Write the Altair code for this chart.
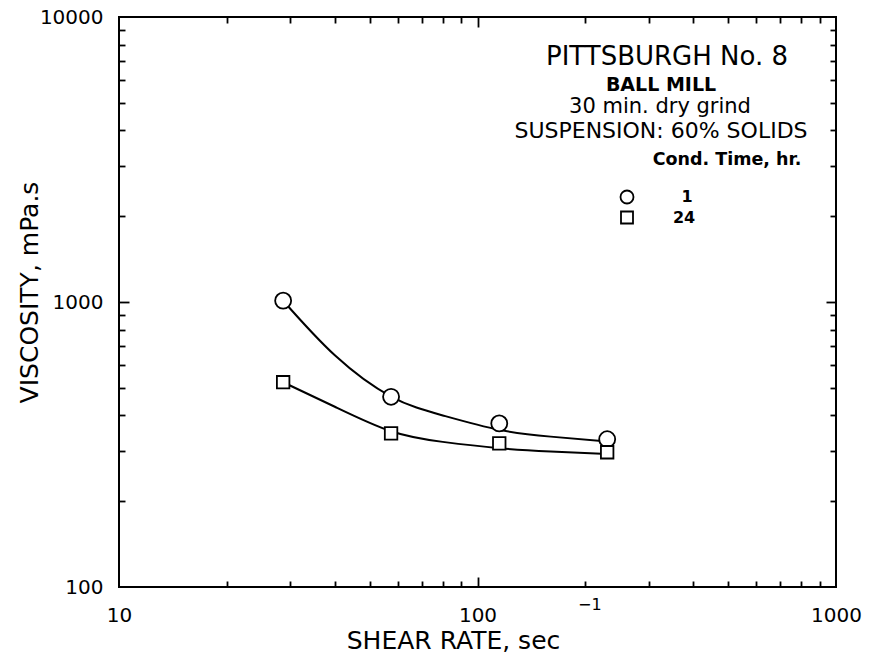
import altair as alt
import pandas as pd

# ---- data ----
shear_rate = [28.7, 57.4, 115, 230]
visc_1h = [1011, 465, 375, 330]
visc_24h = [523, 346, 319, 297]

fit_rate = [28.7, 40, 57.4, 80, 115, 160, 230]
fit_1h = [1010, 650, 466, 400, 356, 337, 324]
fit_24h = [523, 429, 352, 323, 307, 299, 293]

x_major = [100]
x_minor = [20, 30, 40, 50, 60, 70, 80, 90, 200, 300, 400, 500, 600, 700, 800, 900]
y_major = [1000]
y_minor = [200, 300, 400, 500, 600, 700, 800, 900, 2000, 3000, 4000, 5000, 6000, 7000, 8000, 9000]
x_labels = [10, 100, 1000]
y_labels = [100, 1000, 10000]

title_lines = ["PITTSBURGH No. 8", "BALL MILL", "30 min. dry grind", "SUSPENSION: 60% SOLIDS"]
legend_title = "Cond. Time, hr."
legend_labels = ["1", "24"]
x_title = "SHEAR RATE, sec"
x_title_sup = "\u22121"
y_title = "VISCOSITY, mPa.s"

# ---- tables ----
pts = pd.DataFrame({
    "rate": shear_rate * 2,
    "visc": visc_1h + visc_24h,
    "series": ["1"] * len(shear_rate) + ["24"] * len(shear_rate),
})
fit = pd.DataFrame({
    "rate": fit_rate * 2,
    "visc": fit_1h + fit_24h,
    "series": ["1"] * len(fit_rate) + ["24"] * len(fit_rate),
})
dummy = pd.DataFrame({"k": [0]})

W, H = 717, 570
FONT = "DejaVu Sans"

xs = alt.Scale(type="log", domain=[10, 1000], nice=False)
ys = alt.Scale(type="log", domain=[100, 10000], nice=False)

tick_common = dict(labels=False, domain=False, grid=False, ticks=True, title=None,
                   tickColor="black", tickWidth=1.8)
xt_size = {"condition": {"test": "datum.value === 100", "value": 10}, "value": 6}
yt_size = {"condition": {"test": "datum.value === 1000", "value": 10}, "value": 6}

x_label_axis = alt.Axis(orient="bottom", values=x_labels, format="d", ticks=False, tickSize=0,
                        domain=False, grid=False, labelFont=FONT, labelFontSize=20,
                        labelColor="black", labelPadding=18, labelFlush=False, labelOverlap=False,
                        title=x_title, titleFont=FONT, titleFontSize=25, titleFontWeight="normal",
                        titleColor="black", titleX=334, titleY=61, titleAlign="center",
                        titleBaseline="alphabetic", titleAnchor="start")
y_label_axis = alt.Axis(orient="left", values=y_labels, format="d", ticks=False, tickSize=0,
                        domain=False, grid=False, labelFont=FONT, labelFontSize=20,
                        labelColor="black", labelPadding=16, labelFlush=False, labelOverlap=False,
                        title=y_title, titleFont=FONT, titleFontSize=25, titleFontWeight="normal",
                        titleColor="black", titleX=-82, titleY=275, titleAngle=270,
                        titleAlign="center", titleBaseline="alphabetic", titleAnchor="start")

curves = alt.Chart(fit).mark_line(interpolate="natural", color="black", strokeWidth=2).encode(
    x=alt.X("rate:Q", scale=xs, axis=x_label_axis),
    y=alt.Y("visc:Q", scale=ys, axis=y_label_axis),
    detail="series:N",
)

circles = alt.Chart(pts).transform_filter(alt.datum.series == "1").mark_point(
    shape="circle", size=256, filled=True, fill="white", stroke="black", strokeWidth=1.8, opacity=1
).encode(
    x=alt.X("rate:Q", scale=xs, axis=alt.Axis(orient="top", offset=-H, values=x_major + x_minor,
                                               tickSize=xt_size, **tick_common)),
    y=alt.Y("visc:Q", scale=ys, axis=alt.Axis(orient="right", offset=-W, values=y_major + y_minor,
                                               tickSize=yt_size, **tick_common)),
)

squares = alt.Chart(pts).transform_filter(alt.datum.series == "24").mark_point(
    shape="square", size=156, filled=True, fill="white", stroke="black", strokeWidth=1.8, opacity=1
).encode(
    x=alt.X("rate:Q", scale=xs, axis=alt.Axis(orient="bottom", offset=-H, values=x_major + x_minor,
                                               tickSize=xt_size, **tick_common)),
    y=alt.Y("visc:Q", scale=ys, axis=alt.Axis(orient="left", offset=-W, values=y_major + y_minor,
                                               tickSize=yt_size, **tick_common)),
)


def label(text, x, y, size, weight="normal", align="center"):
    return alt.Chart(dummy).mark_text(
        font=FONT, fontSize=size, fontWeight=weight, align=align, baseline="alphabetic", color="black"
    ).encode(x=alt.value(x), y=alt.value(y), text=alt.value(text))


def marker(shape, x, y, size):
    return alt.Chart(dummy).mark_point(
        shape=shape, size=size, filled=True, fill="white", stroke="black", strokeWidth=1.8, opacity=1
    ).encode(x=alt.value(x), y=alt.value(y))


texts = [
    label(title_lines[0], 548, 48, 26),
    label(title_lines[1], 542, 74, 19, "bold"),
    label(title_lines[2], 541, 96, 21),
    label(title_lines[3], 542, 121, 22),
    label(legend_title, 608, 148, 17.5, "bold"),
    marker("circle", 508, 180, 169),
    marker("square", 508, 200.5, 144),
    label(legend_labels[0], 568, 185, 16, "bold"),
    label(legend_labels[1], 565, 205.5, 16, "bold"),
    label(x_title_sup, 459, 593, 16, align="left"),
]

chart = alt.layer(curves, circles, squares, *texts).resolve_axis(
    x="independent", y="independent"
).properties(
    width=W, height=H,
    padding={"left": 119, "top": 17, "right": 869 - 119 - W, "bottom": 671 - 17 - H},
    autosize=alt.AutoSizeParams(type="none"),
    background="white",
).configure_view(stroke="black", strokeWidth=2)

chart.save("out.html", embed_options={"renderer": "svg", "actions": False})
